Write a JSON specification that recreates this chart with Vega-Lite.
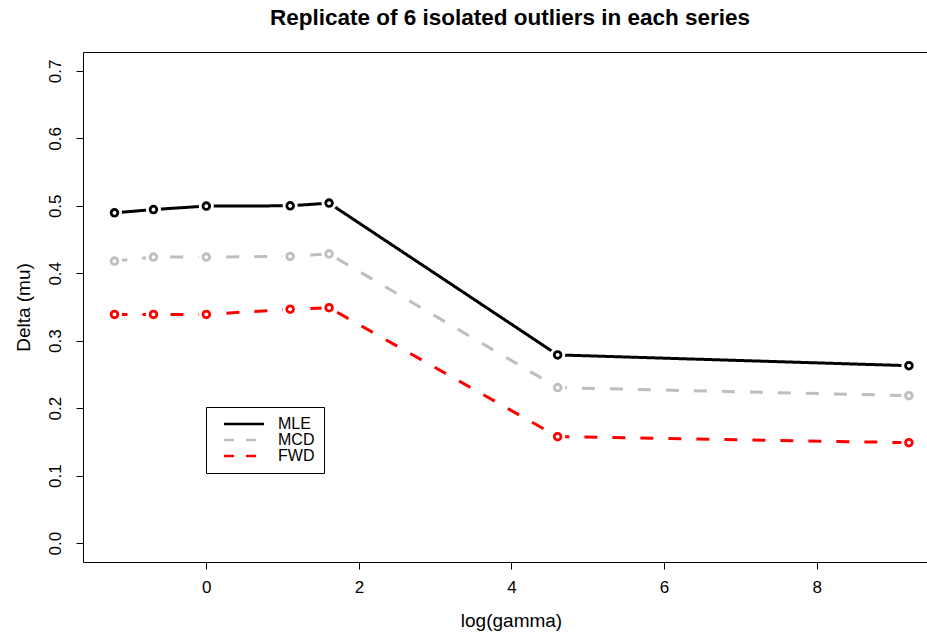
{
  "$schema": "https://vega.github.io/schema/vega-lite/v6.json",
  "width": 844,
  "height": 510,
  "autosize": {"type": "none"},
  "padding": {"left": 83, "top": 52, "right": 0, "bottom": 73},
  "background": "white",
  "title": {"text": "Replicate of 6 isolated outliers in each series", "font": "Liberation Sans", "fontSize": 22.5, "fontWeight": "bold", "color": "black", "anchor": "middle", "baseline": "alphabetic", "offset": 5, "dx": 5},
  "config": {
    "view": {"stroke": null},
    "axis": {"grid": false, "domainColor": "black", "domainWidth": 1, "tickColor": "black", "tickSize": 7, "labelColor": "black", "titleColor": "black", "labelFont": "Liberation Sans", "titleFont": "Liberation Sans", "labelFontSize": 17, "titleFontSize": 19, "titleFontWeight": "normal", "labelFlush": false, "labelOverlap": false}
  },
  "data": {"values": [
    {"series": "MLE", "lg": -1.204, "delta": 0.4896},
    {"series": "MLE", "lg": -0.693, "delta": 0.4945},
    {"series": "MLE", "lg": 0.0, "delta": 0.4996},
    {"series": "MLE", "lg": 1.099, "delta": 0.5000},
    {"series": "MLE", "lg": 1.609, "delta": 0.5040},
    {"series": "MLE", "lg": 4.605, "delta": 0.2790},
    {"series": "MLE", "lg": 9.210, "delta": 0.2630},
    {"series": "MCD", "lg": -1.204, "delta": 0.4180},
    {"series": "MCD", "lg": -0.693, "delta": 0.4240},
    {"series": "MCD", "lg": 0.0, "delta": 0.4240},
    {"series": "MCD", "lg": 1.099, "delta": 0.4250},
    {"series": "MCD", "lg": 1.609, "delta": 0.4288},
    {"series": "MCD", "lg": 4.605, "delta": 0.2305},
    {"series": "MCD", "lg": 9.210, "delta": 0.2186},
    {"series": "FWD", "lg": -1.204, "delta": 0.3390},
    {"series": "FWD", "lg": -0.693, "delta": 0.3390},
    {"series": "FWD", "lg": 0.0, "delta": 0.3390},
    {"series": "FWD", "lg": 1.099, "delta": 0.3467},
    {"series": "FWD", "lg": 1.609, "delta": 0.3490},
    {"series": "FWD", "lg": 4.605, "delta": 0.1578},
    {"series": "FWD", "lg": 9.210, "delta": 0.1489}
  ]},
  "resolve": {"axis": {"x": "independent"}},
  "layer": [
    {
      "mark": {"type": "line", "strokeWidth": 3, "strokeCap": "butt", "strokeJoin": "round"},
      "encoding": {
        "x": {"field": "lg", "type": "quantitative", "scale": {"domain": [-1.6166, 9.447], "nice": false, "zero": false},
              "axis": {"orient": "bottom", "values": [0, 2, 4, 6, 8], "format": "d", "labelBaseline": "top", "labelPadding": 10, "title": "log(gamma)", "titleX": 428, "titleY": 64, "titleBaseline": "alphabetic", "titleAlign": "center"}},
        "y": {"field": "delta", "type": "quantitative", "scale": {"domain": [-0.028, 0.728], "nice": false, "zero": false},
              "axis": {"orient": "left", "values": [0, 0.1, 0.2, 0.3, 0.4, 0.5, 0.6, 0.7], "format": ".1f", "labelAngle": 270, "labelAlign": "center", "labelBaseline": "alphabetic", "labelPadding": 16, "title": "Delta (mu)", "titleAngle": 270, "titleX": -54, "titleY": 255, "titleAlign": "center", "titleBaseline": "alphabetic"}},
        "color": {"field": "series", "type": "nominal", "scale": {"domain": ["MLE", "MCD", "FWD"], "range": ["#000000", "#BEBEBE", "#FF0000"]},
                  "legend": {"title": null, "orient": "none", "legendX": 123, "legendY": 355, "direction": "vertical", "strokeColor": "black", "fillColor": "white", "padding": 9, "symbolType": "M0.2,0H8.2", "symbolSize": 100, "symbolStrokeWidth": 2.5, "labelFont": "Liberation Sans", "labelFontSize": 16, "labelColor": "black", "labelOffset": 47, "rowPadding": 0,
                             "encode": {"symbols": {"update": {"strokeDash": {"signal": "datum.value === 'MLE' ? [1, 0] : [10, 12]"}}}}}},
        "strokeDash": {"condition": {"test": "datum.series === 'MLE'", "value": [1, 0]}, "value": [13, 15]}
      }
    },
    {
      "mark": {"type": "point", "filled": true, "color": "white", "opacity": 1, "size": 230},
      "encoding": {
        "x": {"field": "lg", "type": "quantitative", "axis": {"orient": "top", "labels": false, "ticks": false, "title": null, "domain": true}},
        "y": {"field": "delta", "type": "quantitative"}
      }
    },
    {
      "mark": {"type": "point", "filled": false, "fill": "white", "fillOpacity": 1, "opacity": 1, "strokeWidth": 2.8, "size": 45},
      "encoding": {
        "x": {"field": "lg", "type": "quantitative", "axis": null},
        "y": {"field": "delta", "type": "quantitative"},
        "stroke": {"field": "series", "type": "nominal", "scale": {"domain": ["MLE", "MCD", "FWD"], "range": ["#000000", "#BEBEBE", "#FF0000"]}, "legend": null}
      }
    }
  ]
}
